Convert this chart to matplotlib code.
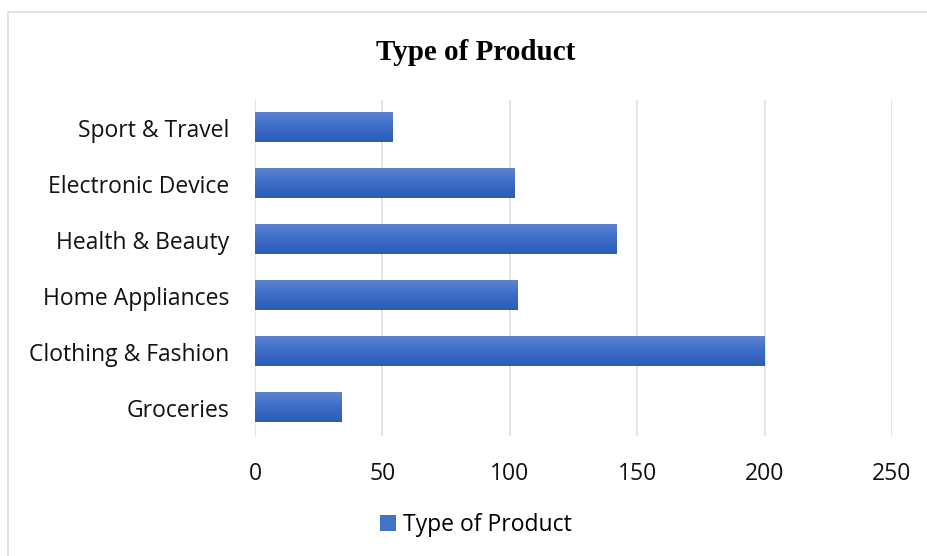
import matplotlib.pyplot as plt
import numpy as np
from matplotlib.patches import Rectangle, Patch
from matplotlib.colors import LinearSegmentedColormap

categories = ['Groceries', 'Clothing & Fashion', 'Home Appliances',
              'Health & Beauty', 'Electronic Device', 'Sport & Travel']
counts = [34, 200, 103, 142, 102, 54]
x_ticks = [0, 50, 100, 150, 200, 250]

fig = plt.figure(figsize=(9.28, 5.56), dpi=100)
ax = fig.add_axes([0.2748, 0.2167, 0.6864, 0.6043])

# chart frame
fig.patches.append(Rectangle((8 / 928, -0.05), 1.0, 1 - 12 / 556 + 0.05,
                             transform=fig.transFigure, fill=False,
                             edgecolor='#d9dce3', linewidth=1.2))

h = 0.52
grad = np.linspace(0, 1, 64).reshape(-1, 1)
cmap = LinearSegmentedColormap.from_list('bar', ['#5f84d0', '#3b6cc8', '#2c5db5'])
for i, v in enumerate(counts):
    ax.imshow(grad, extent=[0, v, i - h / 2, i + h / 2], cmap=cmap,
              aspect='auto', origin='upper', zorder=3)

ax.set_xlim(0, 250)
ax.set_ylim(-0.5, len(categories) - 0.5)
ax.set_yticks(range(len(categories)))
ax.set_yticklabels(categories)
ax.set_xticks(x_ticks)
ax.tick_params(length=0, labelsize=16.5)
ax.tick_params(axis='y', pad=18.5)
ax.tick_params(axis='x', pad=19)
for lab in ax.get_xticklabels() + ax.get_yticklabels():
    lab.set_fontfamily('Open Sans')
    lab.set_color('#111111')
ax.grid(axis='x', color='#dcdfe6', linewidth=1.2, zorder=0)
ax.set_axisbelow(True)
for s in ax.spines.values():
    s.set_visible(False)

fig.text(0.513, 0.905, 'Type of Product', ha='center', va='center',
         fontsize=21, fontweight='bold', family='Liberation Serif')

handle = Patch(facecolor='#4472c4', label='Type of Product')
fig.legend(handles=[handle], loc='center', bbox_to_anchor=(0.513, 0.056),
           frameon=False, handlelength=0.68, handleheight=0.68, handletextpad=0.34,
           prop={'family': 'Open Sans', 'size': 16.5})

fig.savefig('out.png', dpi=100)
